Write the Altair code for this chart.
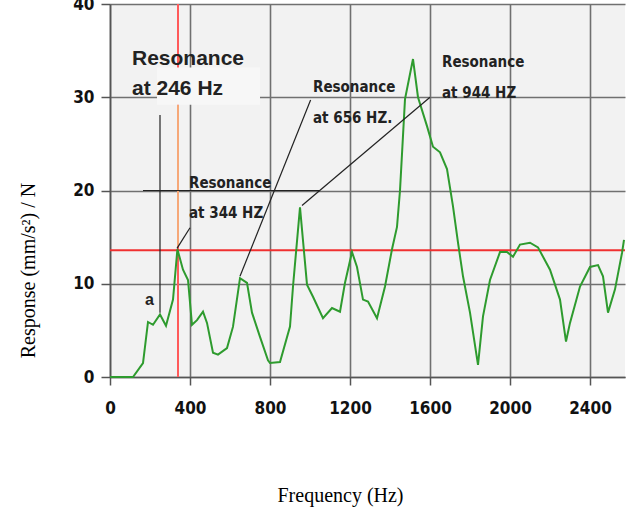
import altair as alt
import pandas as pd

freq = [0, 115, 165, 190, 215, 250, 280, 315, 337, 365, 390, 410, 435, 465, 485, 515, 540, 585, 615, 650,
        685, 710, 750, 790, 800, 850, 900, 915, 950, 985, 1015, 1065, 1110, 1150, 1175, 1210, 1235, 1265, 1290, 1335,
        1375, 1410, 1435, 1450, 1475, 1515, 1540, 1585, 1615, 1650, 1685, 1715, 1740, 1765, 1800, 1840, 1865, 1900, 1950, 1985,
        2015, 2050, 2100, 2140, 2200, 2250, 2280, 2300, 2350, 2400, 2440, 2465, 2490, 2525, 2560, 2570]
resp = [0, 0, 1.5, 5.9, 5.6, 6.7, 5.5, 8.3, 13.7, 11.5, 10.4, 5.6, 6.1, 7.0, 5.8, 2.6, 2.4, 3.1, 5.4, 10.6,
        10.1, 6.9, 4.3, 1.8, 1.5, 1.6, 5.4, 9.7, 18.2, 9.9, 8.6, 6.3, 7.4, 7.0, 10.1, 13.4, 11.8, 8.3, 8.1, 6.3,
        9.7, 13.7, 16.1, 20.0, 29.8, 34.1, 30.0, 26.9, 24.7, 24.1, 22.3, 18.3, 14.4, 10.8, 6.9, 1.3, 6.5, 10.4, 13.4, 13.4,
        12.9, 14.2, 14.4, 13.9, 11.5, 8.3, 3.8, 5.8, 9.7, 11.8, 12.0, 10.8, 6.9, 9.4, 13.3, 14.7]

x_ticks = [0, 400, 800, 1200, 1600, 2000, 2400]
y_ticks = [0, 10, 20, 30, 40]

# reference lines
ref_freq = 340
ref_resp = 13.6

# annotation labels
small_text = ["Resonance", "at 344 HZ", "Resonance", "at 656 HZ.", "Resonance", "at 944 HZ"]
small_x = [395, 395, 1015, 1015, 1660, 1660]
small_y = [20.3, 17.05, 30.6, 27.2, 33.2, 29.9]
big_text = ["Resonance", "at 246 Hz"]
big_x = [110, 110]
big_y = [33.5, 30.2]

# leader lines
lead_x = [335, 650, 960, 250, 165]
lead_y = [13.8, 10.8, 18.4, 28.1, 20.0]
lead_x2 = [400, 1003, 1600, 250, 1050]
lead_y2 = [16.0, 29.7, 30.0, 6.9, 20.0]

df = pd.DataFrame({"f": freq, "r": resp})
xs = alt.Scale(domain=[0, 2575], nice=False, zero=False)
ys = alt.Scale(domain=[0, 40], nice=False)

tick_font = "DejaVu Sans Condensed, Liberation Sans Narrow, sans-serif"

line = alt.Chart(df).mark_line(color="#2e9b2e", strokeWidth=2).encode(
    x=alt.X("f:Q", scale=xs, axis=alt.Axis(
        values=x_ticks, format="d", title="Frequency (Hz)", titleFont="Liberation Serif", titleFontSize=20,
        titleFontWeight="normal", titleColor="#000", titleX=230, titleY=118, titleBaseline="middle",
        labelFont=tick_font, labelFontSize=17, labelFontWeight="bold", labelColor="#111",
        labelPadding=15, labelFlush=False, tickSize=8, tickColor="#555", tickWidth=1.5,
        grid=True, gridColor="#707070", gridWidth=1.6, domain=True, domainColor="#555", domainWidth=1.6)),
    y=alt.Y("r:Q", scale=ys, axis=alt.Axis(
        values=y_ticks, format="d", title="Response (mm/s²) / N", titleFont="Liberation Serif", titleFontSize=20,
        titleFontWeight="normal", titleColor="#000", titleX=-82, titleY=266, titleAngle=-90,
        titleBaseline="middle", titleAlign="center",
        labelFont=tick_font, labelFontSize=17, labelFontWeight="bold", labelColor="#111",
        labelPadding=7, tickSize=9, tickColor="#555", tickWidth=1.5,
        grid=True, gridColor="#707070", gridWidth=1.6, domain=True, domainColor="#555", domainWidth=1.6)),
)

vred = alt.Chart(pd.DataFrame({"x": [ref_freq]})).mark_rule(color="#ff5a5a", strokeWidth=2).encode(x="x:Q")
hred = alt.Chart(pd.DataFrame({"y": [ref_resp]})).mark_rule(color="#f03030", strokeWidth=2).encode(y="y:Q")
orange = alt.Chart(pd.DataFrame({"x": [ref_freq], "y": [14.0], "y2": [29.2]})).mark_rule(
    color="#f6a878", strokeWidth=2).encode(x="x:Q", y="y:Q", y2="y2:Q")

box = alt.Chart(pd.DataFrame({"x": [235], "x2": [750], "y": [29.2], "y2": [33.2]})).mark_rect(
    color="#f7f7f7").encode(x="x:Q", x2="x2:Q", y="y:Q", y2="y2:Q")

leads = alt.Chart(pd.DataFrame({"x": lead_x, "y": lead_y, "x2": lead_x2, "y2": lead_y2})).mark_rule(
    color="#222", strokeWidth=1.2).encode(x="x:Q", y="y:Q", x2="x2:Q", y2="y2:Q")

small = alt.Chart(pd.DataFrame({"t": small_text, "x": small_x, "y": small_y})).mark_text(
    align="left", baseline="alphabetic", font=tick_font, fontSize=15, fontWeight="bold", color="#222"
).encode(x="x:Q", y="y:Q", text="t:N")

big = alt.Chart(pd.DataFrame({"t": big_text, "x": big_x, "y": big_y})).mark_text(
    align="left", baseline="alphabetic", font="Liberation Sans", fontSize=21, fontWeight="bold", color="#222"
).encode(x="x:Q", y="y:Q", text="t:N")

a_lab = alt.Chart(pd.DataFrame({"t": ["a"], "x": [175], "y": [7.7]})).mark_text(
    align="left", baseline="alphabetic", font="Liberation Sans", fontSize=16, fontWeight="bold", color="#222"
).encode(x="x:Q", y="y:Q", text="t:N")

chart = alt.layer(vred, hred, orange, box, line, leads, small, big, a_lab).properties(
    width=515, height=373,
    autosize=alt.AutoSizeParams(type="none"),
    padding={"left": 110, "top": 4, "right": 5, "bottom": 135},
    background="white",
).configure_view(fill="#f2f2f2", stroke=None)

chart.save("out.html", embed_options={"renderer": "svg", "actions": False})
